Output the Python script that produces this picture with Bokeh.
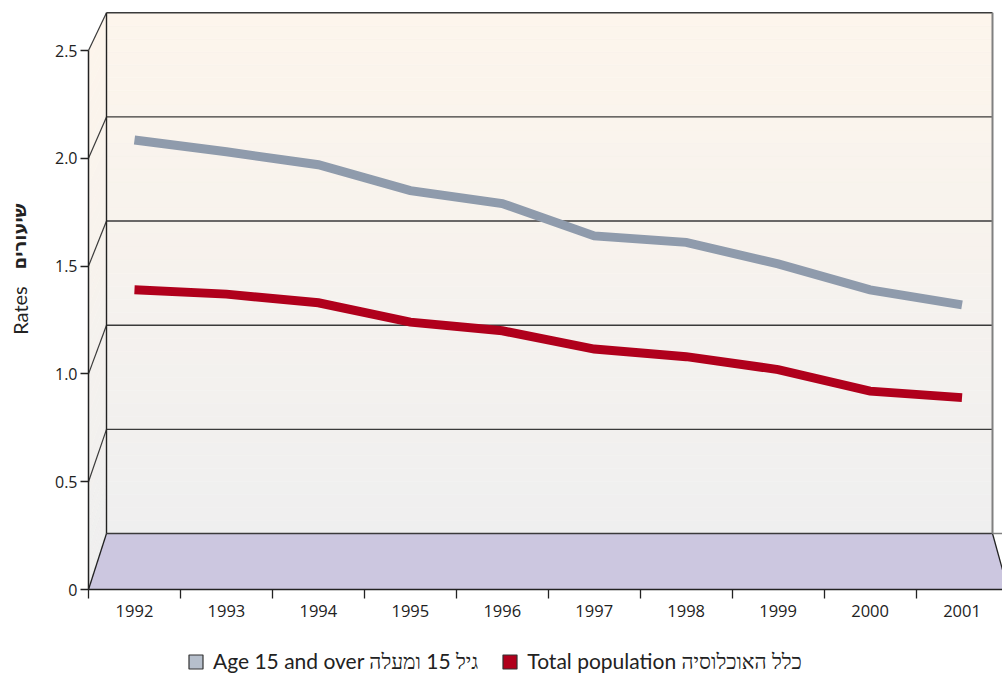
from bokeh.plotting import figure
from bokeh.models import Range1d, FixedTicker, Legend, LegendItem, Label, NumeralTickFormatter
from bokeh.embed import file_html
from bokeh.resources import INLINE

# ---------------- data ----------------
years = ["1992", "1993", "1994", "1995", "1996", "1997", "1998", "1999", "2000", "2001"]
age15_over = [2.085, 2.03, 1.97, 1.85, 1.79, 1.64, 1.61, 1.51, 1.39, 1.32]
total_population = [1.39, 1.37, 1.33, 1.24, 1.20, 1.115, 1.08, 1.02, 0.92, 0.89]
y_ticks = [0, 0.5, 1.0, 1.5, 2.0, 2.5]
y_tick_labels = ["0", "0.5", "1.0", "1.5", "2.0", "2.5"]
label_age = "Age 15 and over גיל 15 ומעלה"
label_total = "Total population כלל האוכלוסיה"
axis_title_en = "Rates"
axis_title_he = "שיעורים"

# ---------------- geometry / style ----------------
PX_X = 91.95          # pixels per category (front plane)
PX_Y = 215.6          # pixels per unit (front plane)
W, H = 1002, 673
ORIGIN_X, ORIGIN_Y = 88, 589   # front-plane origin in canvas pixels
N = len(years)

DX = 18 / PX_X
DY = 56 / PX_Y
SX = 886 / (N * PX_X)
SY = 208.3 / PX_Y


def bx(x):
    return DX + x * SX


def by(v):
    return DY + v * SY


TOPV = y_ticks[-1]
C_TOP = (253, 245, 236)
C_BOT = (239, 239, 239)


def mix(t):
    c = [round(C_BOT[k] + (C_TOP[k] - C_BOT[k]) * t) for k in range(3)]
    return "#%02x%02x%02x" % tuple(c)


x_start, x_end = -ORIGIN_X / PX_X, (W - ORIGIN_X) / PX_X
y_start, y_end = -(H - ORIGIN_Y) / PX_Y, ORIGIN_Y / PX_Y

p = figure(width=W, height=H, x_range=Range1d(x_start, x_end), y_range=Range1d(y_start, y_end),
           output_backend="svg", toolbar_location=None,
           min_border_left=0, min_border_right=0, min_border_top=0, min_border_bottom=0,
           outline_line_color=None,
           background_fill_color="white", border_fill_color="white")
p.grid.visible = False

# back wall + side wall gradient bands
nb = 40
bxs, bys, bcols = [], [], []
sxs, sys_ = [], []
for i in range(nb):
    v0 = TOPV * i / nb
    v1 = TOPV * (i + 1) / nb
    col = mix((i + 0.5) / nb)
    bxs.append([bx(0), bx(N), bx(N), bx(0)])
    bys.append([by(v0), by(v0), by(v1), by(v1)])
    bcols.append(col)
    sxs.append([0, bx(0), bx(0), 0])
    sys_.append([v0, by(v0), by(v1), v1])
p.patches(bxs, bys, fill_color=bcols, line_color=bcols, line_width=0.5)
p.patches(sxs, sys_, fill_color=bcols, line_color=bcols, line_width=0.5)

# floor
p.patch([0, bx(0), bx(N), N], [0, by(0), by(0), 0], fill_color="#ccc7e0", line_color=None)

# grid lines on walls
for v in y_ticks:
    p.line([bx(0), bx(N)], [by(v), by(v)], line_color="#3a3a3a", line_width=1.4)
    if v > 0:
        p.line([0, bx(0)], [v, by(v)], line_color="#3a3a3a", line_width=1.2)
p.line([0, bx(0)], [0, by(0)], line_color="#222222", line_width=1.3)
p.line([bx(N), N], [by(0), 0], line_color="#222222", line_width=1.3)
p.line([bx(0), bx(0)], [by(0), by(TOPV)], line_color="#222222", line_width=1.4)
p.line([bx(N), bx(N)], [by(0), by(TOPV)], line_color="#808080", line_width=2)
p.line([bx(N), x_end], [by(0), by(0)], line_color="#808080", line_width=1.5)

# data ribbons
xs = [i + 0.5 for i in range(N)]
p.line(xs, age15_over, line_color="#8f9bac", line_width=9, line_join="miter")
p.line(xs, total_population, line_color="#b0001c", line_width=9, line_join="miter")
r_age = p.scatter(xs, age15_over, marker="square", size=0, fill_color="#b6bfcc",
                  line_color="#333333", line_width=1.2)
r_tot = p.scatter(xs, total_population, marker="square", size=0, fill_color="#b0001c",
                  line_color="#333333", line_width=1.2)

# axes (placed on the front plane of the box)
xa = p.xaxis[0]
xa.fixed_location = 0
xa.bounds = (0, N)
xa.ticker = FixedTicker(ticks=xs, minor_ticks=list(range(N + 1)))
xa.major_label_overrides = {x: y for x, y in zip(xs, years)}
xa.major_tick_out = 0
xa.major_tick_in = 0
xa.minor_tick_out = 9
xa.minor_tick_in = 0
xa.minor_tick_line_color = "#222222"
xa.minor_tick_line_width = 1.3
xa.axis_line_color = "#222222"
xa.axis_line_width = 1.5
xa.major_label_standoff = 6
xa.major_label_text_font = "Open Sans"
xa.major_label_text_font_size = "16.5px"
xa.major_label_text_color = "#222222"

ya = p.yaxis[0]
ya.fixed_location = 0
ya.ticker = FixedTicker(ticks=y_ticks)
ya.formatter = NumeralTickFormatter(format="0.0")
ya.major_label_overrides = {0: y_tick_labels[0]}
ya.bounds = (0, TOPV)
ya.major_tick_out = 8
ya.major_tick_in = 0
ya.minor_tick_out = 0
ya.minor_tick_in = 0
ya.major_tick_line_color = "#222222"
ya.major_tick_line_width = 1.3
ya.axis_line_color = "#222222"
ya.axis_line_width = 1.5
ya.major_label_standoff = 3
ya.major_label_text_font = "Open Sans"
ya.major_label_text_font_size = "16px"
ya.major_label_text_color = "#222222"

# y axis title (two parts: regular English, bold Hebrew)
p.add_layout(Label(x=(19 - ORIGIN_X) / PX_X, y=(ORIGIN_Y - 310) / PX_Y, text=axis_title_en,
                   angle=1.5708, text_align="center", text_baseline="middle",
                   text_font="Lato", text_font_size="20px", text_color="#222222"))
p.add_layout(Label(x=(19 - ORIGIN_X) / PX_X, y=(ORIGIN_Y - 236) / PX_Y, text=axis_title_he,
                   angle=1.5708, text_align="center", text_baseline="middle",
                   text_font="DejaVu Sans", text_font_style="bold", text_font_size="18px",
                   text_color="#222222"))

legend = Legend(items=[LegendItem(label=label_age, renderers=[r_age]),
                       LegendItem(label=label_total, renderers=[r_tot])],
                orientation="horizontal", location=(178, -6),
                glyph_width=35, glyph_height=35, label_standoff=0, spacing=14,
                border_line_color=None, background_fill_alpha=0,
                label_text_font="Lato", label_text_font_size="21px",
                label_text_color="#222222", padding=0, margin=0)
p.add_layout(legend, "center")

open("out.html", "w").write(file_html(p, INLINE))
